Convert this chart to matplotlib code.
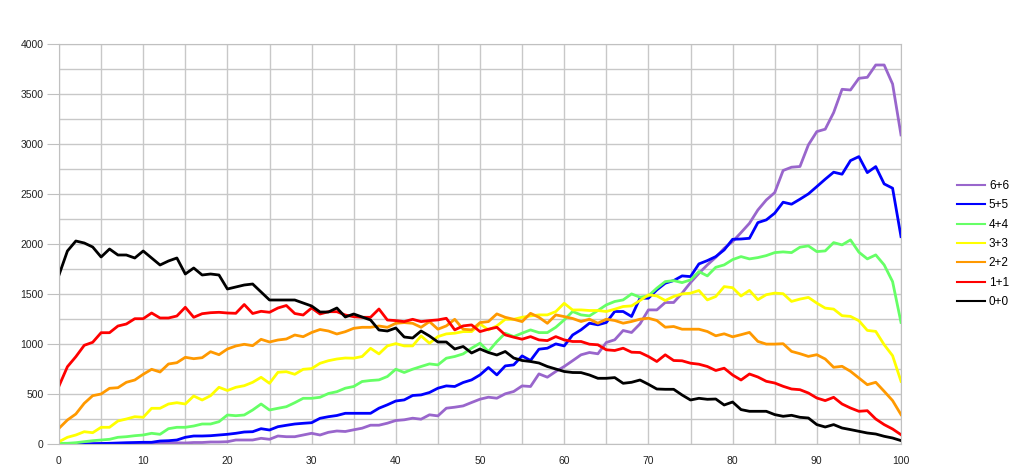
import matplotlib
matplotlib.use("Agg")
import matplotlib.pyplot as plt
import numpy as np

nan = np.nan
x = list(range(101))

# series values, x = 0..100
s00 = [1690,1930,2030,2010,1970,1870,1950,1890,1890,1860,
       1930,1860,1790,1830,1860,1700,1760,1690,1700,1690,
       1550,1570,1590,1600,1520,1440,1440,1440,1440,1410,
       1380,1320,1320,1360,1270,1300,1270,1240,1140,1130,
       1160,1070,1060,1130,1080,1020,1020,950,975,910,
       950,915,890,925,860,835,825,810,775,750,
       725,715,714,690,657,657,664,607,617,640,
       597,550,547,547,490,440,457,447,450,390,
       420,344,327,327,327,294,277,287,267,260,
       194,170,194,160,144,127,110,100,77,60,
       34]
s11 = [580,773,873,987,1017,1113,1113,1180,1200,1253,
       1253,1310,1260,1260,1280,1367,1267,1303,1313,1317,
       1310,1307,1395,1305,1327,1317,1360,1385,1305,1290,
       1360,1300,1323,1323,1290,1273,1267,1267,1350,1240,
       1234,1224,1247,1224,1234,1241,1257,1141,1181,1191,
       1124,1148,1167,1091,1068,1048,1074,1041,1034,1074,
       1041,1025,1025,998,992,942,935,958,918,915,
       875,825,892,835,832,808,798,775,735,758,
       690,640,700,670,627,610,577,550,543,510,
       460,434,467,400,360,327,333,250,194,150,
       93]
s22 = [157,240,300,407,483,500,557,563,617,640,
       697,747,720,800,813,867,853,863,923,893,
       950,980,997,983,1047,1020,1040,1050,1090,1073,
       1115,1145,1130,1100,1123,1157,1167,1167,1180,1167,
       1207,1214,1207,1167,1224,1148,1181,1247,1148,1141,
       1214,1224,1301,1267,1247,1224,1307,1267,1207,1291,
       1274,1255,1225,1248,1208,1248,1235,1208,1225,1248,
       1258,1235,1168,1175,1148,1148,1148,1125,1082,1102,
       1072,1093,1116,1026,999,999,1003,926,903,876,
       893,850,767,777,727,660,593,617,527,434,
       294]
s33 = [23,67,90,123,113,167,167,230,250,273,
       267,357,357,400,413,400,480,440,483,567,
       535,567,583,617,667,607,717,723,697,747,
       754,807,833,850,860,858,875,957,901,981,
       1004,981,981,1081,1008,1074,1101,1108,1124,1124,
       1201,1141,1181,1247,1247,1267,1281,1291,1291,1324,
       1407,1340,1341,1335,1335,1325,1348,1375,1381,1435,
       1491,1481,1435,1475,1501,1508,1535,1441,1475,1574,
       1563,1480,1536,1443,1493,1509,1503,1426,1449,1466,
       1409,1359,1349,1283,1276,1233,1136,1126,993,883,
       627]
s44 = [7,7,13,23,33,40,47,67,73,83,
       90,107,97,153,167,167,180,200,200,223,
       290,283,290,340,400,340,357,373,413,457,
       457,467,505,523,558,575,625,635,641,675,
       748,715,748,775,801,791,858,875,901,958,
       1008,925,1024,1108,1074,1108,1141,1114,1114,1167,
       1241,1325,1291,1281,1335,1391,1425,1441,1501,1468,
       1481,1558,1624,1634,1614,1641,1724,1681,1767,1791,
       1844,1874,1851,1864,1884,1914,1921,1914,1968,1981,
       1924,1931,2014,1991,2041,1918,1851,1891,1791,1624,
       1216]
s55 = [nan,nan,0,0,3,5,7,10,13,15,
       17,17,30,33,40,67,80,80,83,90,
       97,107,120,123,153,140,173,187,200,207,
       213,257,273,285,307,307,307,307,358,392,
       430,441,485,491,515,558,581,575,615,641,
       691,765,691,781,791,881,835,948,958,1001,
       981,1090,1142,1208,1192,1215,1325,1325,1275,1458,
       1458,1541,1608,1634,1681,1674,1801,1834,1874,1941,
       2047,2050,2057,2214,2241,2308,2418,2398,2448,2501,
       2574,2648,2718,2698,2834,2874,2714,2774,2601,2558,
       2074]
s66 = [nan,nan,nan,0,0,2,3,3,5,5,
       7,8,10,12,12,10,15,15,20,20,
       23,40,40,40,57,47,80,73,73,90,
       107,90,117,130,125,142,158,188,188,208,
       235,242,258,248,292,281,358,368,381,415,
       448,468,458,502,525,581,575,701,668,725,
       775,833,892,915,902,1015,1042,1135,1115,1201,
       1341,1341,1415,1415,1508,1614,1707,1791,1867,1957,
       2024,2114,2207,2340,2440,2514,2735,2768,2775,2991,
       3124,3148,3314,3547,3540,3657,3667,3790,3790,3600,
       3091]

labels = ['6+6', '5+5', '4+4', '3+3', '2+2', '1+1', '0+0']
series = [s66, s55, s44, s33, s22, s11, s00]
colors = ['#9966CC', '#0000FF', '#66FF66', '#FFFF00', '#FF9900', '#FF0000', '#000000']

plt.rcParams['font.family'] = ['Liberation Sans', 'DejaVu Sans']

fig = plt.figure(figsize=(10.16, 4.76), dpi=100)
ax = fig.add_axes([59/1016, 1-444/476, 842/1016, 400/476])

for vals, lab, col in zip(series, labels, colors):
    ax.plot(x, vals, color=col, lw=2.0, label=lab)

ax.set_xlim(0, 100)
ax.set_ylim(0, 4000)
ax.set_xticks(range(0, 101, 10))
ax.set_yticks(range(0, 4001, 500))
ax.set_xticks(range(0, 101, 5), minor=True)
ax.set_yticks(range(0, 4001, 250), minor=True)
ax.grid(True, which='both', color='#c8c8c8', lw=1.0)
ax.set_axisbelow(True)
for sp in ax.spines.values():
    sp.set_color('#c0c0c0')
ax.tick_params(axis='y', which='major', length=9, color='#c0c0c0', pad=2, labelsize=7.5, labelcolor='#222222')
ax.tick_params(axis='x', which='major', length=0, pad=9, labelsize=7.5, labelcolor='#222222')
ax.tick_params(which='minor', length=0)

# legend sits right of the plot, around x=957px
leg = ax.legend(loc='center left', bbox_to_anchor=((957 - 59) / 842, 0.5), frameon=False,
                fontsize=8.5, handlelength=2.4, handletextpad=0.3, labelspacing=0.62,
                borderaxespad=0, borderpad=0)
for h in leg.get_lines():
    h.set_linewidth(1.5)

plt.savefig('out.png', dpi=100)
plt.close()
